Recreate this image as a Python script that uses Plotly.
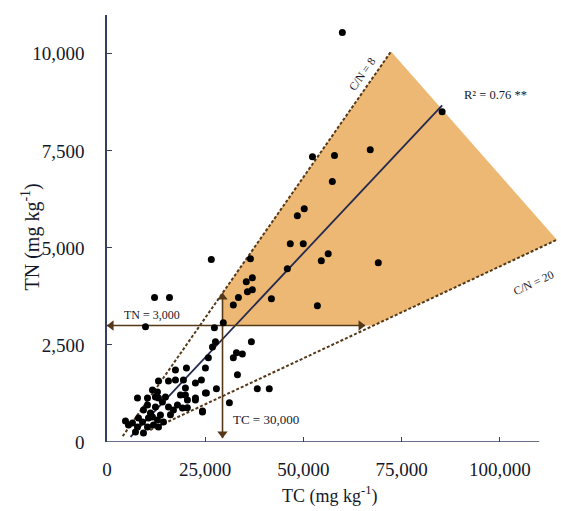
import plotly.graph_objects as go

# ---- data (mg kg-1) ----
tc = [59900, 85300, 52300, 57900, 67000, 57350, 50200, 48450, 46650, 49950,
      56300, 54550, 69050, 45900, 41850, 53550, 36500, 37000, 35450, 37000,
      35750, 33450, 32150, 26550, 12100, 15900, 9800, 29600, 27340, 36750,
      32950, 34450, 32150, 33200, 38250, 41300, 31150, 27600, 26850,
      25800, 27850, 25300, 22500, 20450, 24300,
      17420, 20220, 25050, 13100, 15640, 17420, 19450, 22510, 24030, 11570,
      12840, 19960, 7760, 10300, 13100, 14880, 19960, 22510, 25050, 10300,
      12330, 15640, 17930, 19200, 20470, 9280, 11060, 13600, 16910, 24290,
      10550, 12840, 14370, 8010, 6480, 5470, 7760, 10300, 11820, 13100,
      9030, 7250, 9280, 11570, 14110, 12330, 4700, 16150, 18700]
tn = [10550, 8510, 7350, 7380, 7530, 6710, 6010, 5830, 5110, 5110,
      4850, 4670, 4620, 4460, 3690, 3510, 4720, 4230, 4130, 3920,
      3870, 3720, 3530, 4700, 3720, 3720, 2970, 3070, 2940, 2580,
      2300, 2270, 2170, 1730, 1370, 1370, 1010, 2580, 2450,
      2170, 1370, 1260, 1080, 880, 800,
      1858, 1909, 1909, 1574, 1574, 1600, 1600, 1522, 1600, 1342,
      1290, 1393, 1135, 1135, 1135, 1161, 1213, 1135, 1264, 955,
      903, 903, 955, 877, 1084, 826, 748, 697, 826, 774,
      619, 568, 516, 619, 490, 439, 387, 387, 439, 387,
      516, 258, 232, 645, 1032, 1161, 540, 700, 1210]

cn8_tc = [4000, 72300]
cn8_tn = [150, 10060]
cn20_tc = [11000, 114500]
cn20_tn = [310, 5210]
reg_tc = [6000, 85300]
reg_tn = [130, 8670]
zone_tc = [29400, 72300, 114500, 67800, 29400, 29400]
zone_tn = [3840, 10060, 5210, 3000, 3000, 3840]
tn_limit = 3000
tn_arrow_tc = [0, 65700]
tc_limit = 29400
tc_arrow_tn = [100, 3840]
x_ticks = [0, 25000, 50000, 75000, 100000]
y_ticks = [0, 2500, 5000, 7500, 10000]
x_axis_end = 110000

SERIF = "Liberation Serif"
INK = "#15182a"
AXIS = "#34405e"
BROWN = "#553817"

fig = go.Figure()

# shaded zone
fig.add_trace(go.Scatter(x=zone_tc, y=zone_tn, mode="lines", fill="toself",
                         fillcolor="#EDB874", line=dict(width=0),
                         hoverinfo="skip"))
# C/N lines
fig.add_trace(go.Scatter(x=cn8_tc, y=cn8_tn, mode="lines",
                         line=dict(color=BROWN, width=2, dash="3px,2px")))
fig.add_trace(go.Scatter(x=cn20_tc, y=cn20_tn, mode="lines",
                         line=dict(color=BROWN, width=2, dash="3px,2px")))
# regression line
fig.add_trace(go.Scatter(x=reg_tc, y=reg_tn, mode="lines",
                         line=dict(color="#23294f", width=1.8)))

# threshold arrows (lines + triangular heads)
h_off = 1100   # half arrow-head length in TC units
v_off = 110    # half arrow-head length in TN units
fig.add_trace(go.Scatter(x=tn_arrow_tc, y=[tn_limit, tn_limit], mode="lines",
                         line=dict(color=BROWN, width=1.6)))
fig.add_trace(go.Scatter(x=[tn_arrow_tc[0] + h_off, tn_arrow_tc[1] - h_off],
                         y=[tn_limit, tn_limit], mode="markers",
                         marker=dict(symbol=["triangle-left", "triangle-right"],
                                     size=9, color=BROWN)))
fig.add_trace(go.Scatter(x=[tc_limit, tc_limit], y=tc_arrow_tn, mode="lines",
                         line=dict(color=BROWN, width=1.6)))
fig.add_trace(go.Scatter(x=[tc_limit, tc_limit],
                         y=[tc_arrow_tn[0] + v_off, tc_arrow_tn[1] - v_off],
                         mode="markers",
                         marker=dict(symbol=["triangle-down", "triangle-up"],
                                     size=9, color=BROWN)))

# points
fig.add_trace(go.Scatter(x=tc, y=tn, mode="markers",
                         marker=dict(color="black", size=7)))

# x axis line (ends before plot edge)
fig.add_shape(type="line", x0=0, x1=x_axis_end, y0=0, y1=0,
              xref="x", yref="y", line=dict(color=AXIS, width=1.5))

# labels
def lab(text, x, y, angle=0, size=12):
    fig.add_annotation(x=x, y=y, xref="x", yref="y", text=text, showarrow=False,
                       xanchor="center", yanchor="middle",
                       textangle=angle, font=dict(family=SERIF, size=size, color=INK))

lab("TN = 3,000", 11570, 3277, size=12)
lab("TC = 30,000", 40560, 568, size=13)
lab("C/N = 8", 64970, 9469, angle=-55, size=11.5)
lab("C/N = 20", 108460, 4102, angle=-25, size=11.5)
lab("R\u00b2 = 0.76 **", 98800, 8927, size=12.5)

# axis titles
fig.add_annotation(x=-0.169, y=0.48, xref="paper", yref="paper",
                   xanchor="center", yanchor="middle",
                   text="TN (mg kg<sup>-1</sup>)", textangle=-90, showarrow=False,
                   font=dict(family=SERIF, size=20, color=INK))
fig.add_annotation(x=0.493, y=-0.157, xref="paper", yref="paper",
                   xanchor="center", yanchor="bottom",
                   text="TC (mg kg<sup>-1</sup>)", showarrow=False,
                   font=dict(family=SERIF, size=18, color=INK))

fig.update_layout(
    width=561, height=511, autosize=False,
    margin=dict(l=106.5, r=1, t=15, b=69),
    plot_bgcolor="white", paper_bgcolor="white", showlegend=False,
    font=dict(family=SERIF, color=INK),
    xaxis=dict(range=[0, 115300], tickvals=x_ticks, tickformat=",",
               ticks="inside", ticklen=5, tickcolor=AXIS, tickwidth=1.2,
               showgrid=False, zeroline=False, showline=False,
               ticklabelstandoff=14,
               tickfont=dict(family=SERIF, size=19, color=INK)),
    yaxis=dict(range=[0, 11000], tickvals=y_ticks, tickformat=",",
               ticks="inside", ticklen=5, tickcolor=AXIS, tickwidth=1.2,
               showgrid=False, zeroline=False, showline=True,
               linecolor=AXIS, linewidth=1.5,
               ticklabelstandoff=17,
               tickfont=dict(family=SERIF, size=19, color=INK)),
)

fig.write_html("out.html")
